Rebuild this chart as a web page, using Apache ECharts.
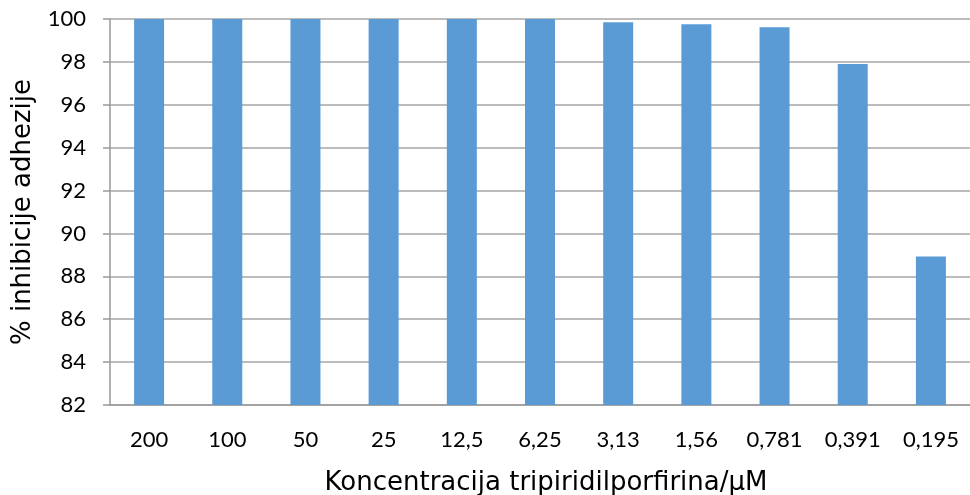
<!DOCTYPE html>
<html><head><meta charset="utf-8">
<script src="https://cdn.jsdelivr.net/npm/echarts@6/dist/echarts.min.js"></script>
<style>html,body{margin:0;padding:0;background:#fff}#c{width:970px;height:495px}</style>
</head><body><div id="c"></div>
<script>
const categories = ['200','100','50','25','12,5','6,25','3,13','1,56','0,781','0,391','0,195'];
const values = [100, 100, 100, 100, 100, 100, 99.85, 99.75, 99.62, 97.9, 88.92];
const yTicks = [82, 84, 86, 88, 90, 92, 94, 96, 98, 100];
const FONT = "Lato,'Open Sans',sans-serif";
const TFONT = "'DejaVu Sans',Verdana,sans-serif";
const chart = echarts.init(document.getElementById('c'));
chart.setOption({
  animation: false,
  grid: {left: 110, right: 0, top: 19, bottom: 90, outerBoundsMode: 'none', containLabel: false},
  xAxis: {
    type: 'category', data: categories,
    name: 'Koncentracija tripiridilporfirina/µM', nameLocation: 'middle', nameGap: 65,
    nameTextStyle: {fontFamily: TFONT, fontSize: 26, color: '#000', padding: [0, 0, 0, 12]},
    axisLine: {lineStyle: {color: '#999', width: 1.5}},
    axisTick: {show: false},
    axisLabel: {fontFamily: FONT, fontSize: 22, color: '#000', margin: 24}
  },
  yAxis: {
    type: 'value', min: yTicks[0], max: yTicks[yTicks.length-1], interval: 2,
    name: '% inhibicije adhezije', nameLocation: 'middle', nameGap: 74,
    nameTextStyle: {fontFamily: TFONT, fontSize: 26, color: '#000'},
    axisLine: {show: true, lineStyle: {color: '#999', width: 1.5}},
    axisTick: {show: true, length: 7, lineStyle: {color: '#999', width: 1.5}},
    axisLabel: {fontFamily: FONT, fontSize: 22, color: '#000', margin: 24},
    splitLine: {lineStyle: {color: '#a6a6a6', width: 1.5}}
  },
  series: [{type: 'bar', data: values, barWidth: 30, itemStyle: {color: '#5b9bd5'}}]
});
</script></body></html>
